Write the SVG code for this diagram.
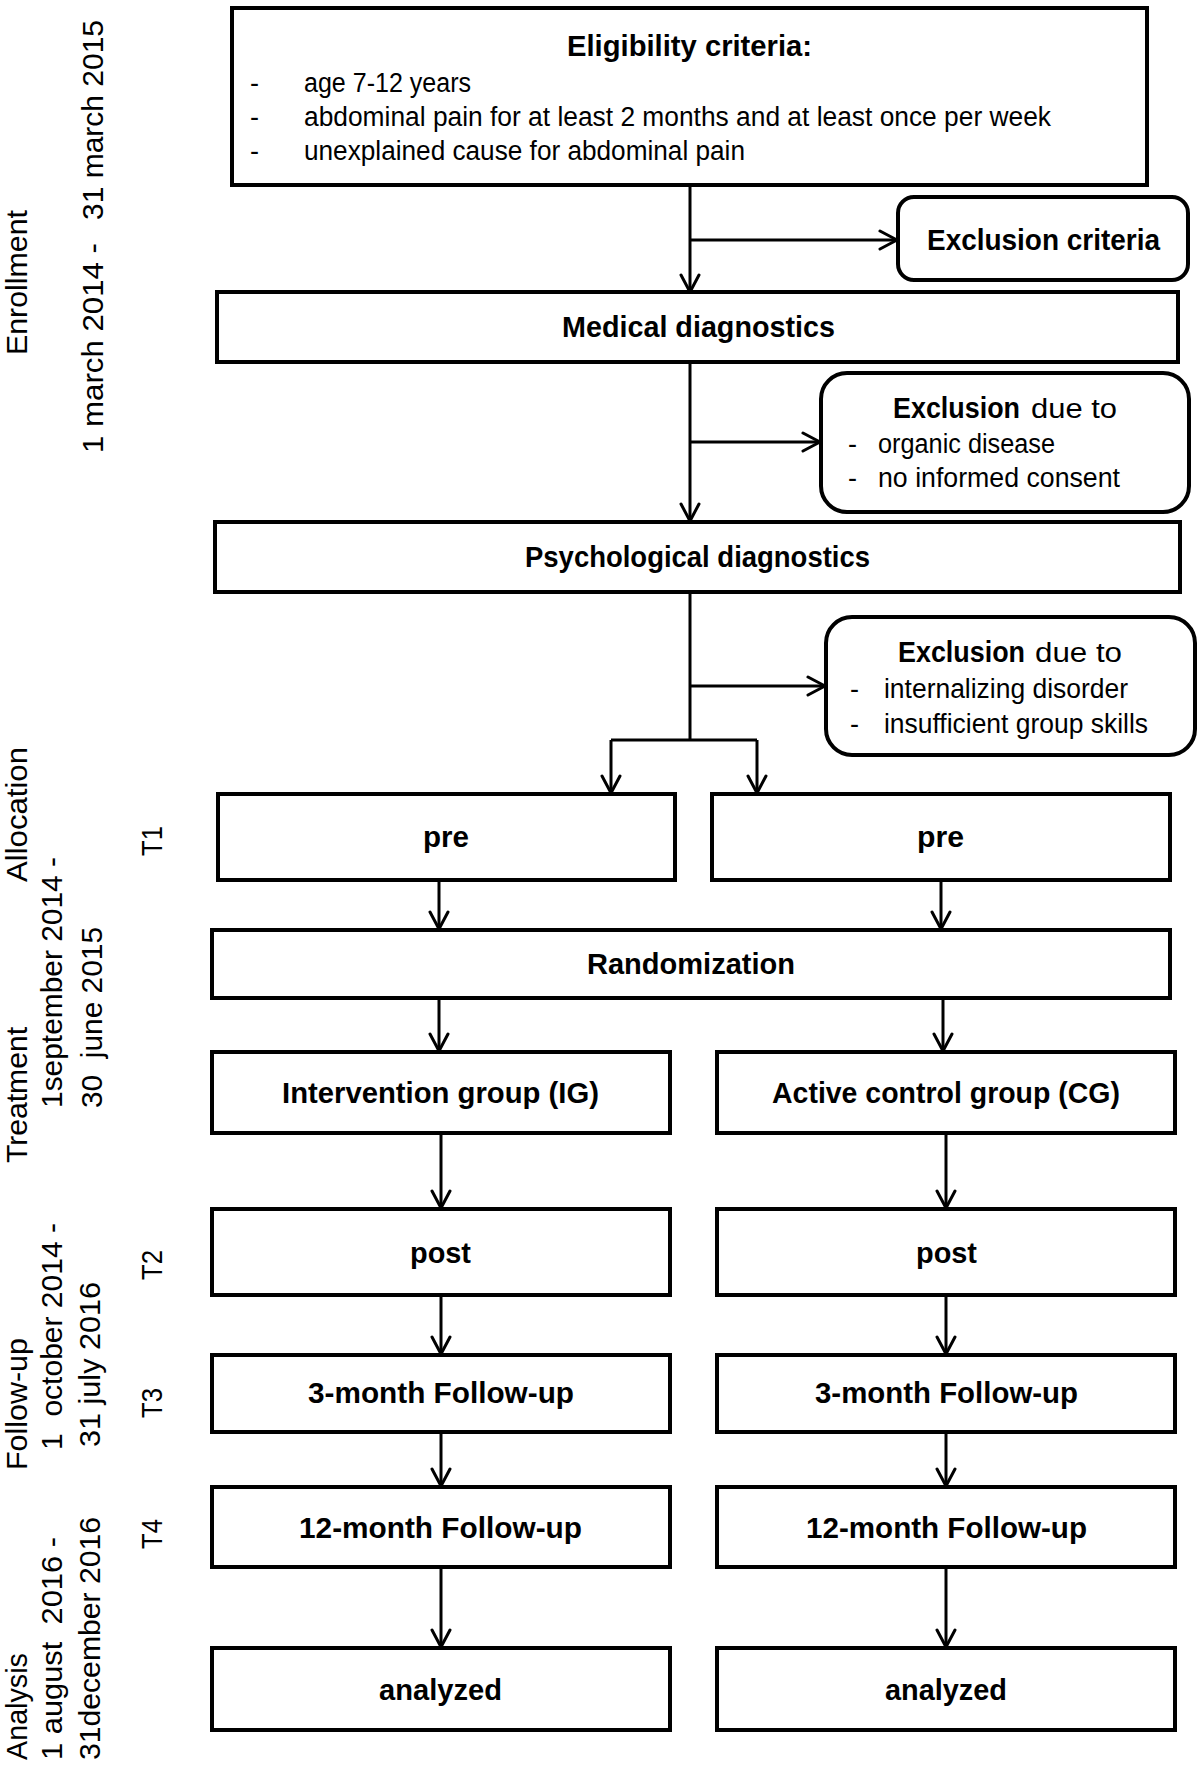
<svg xmlns="http://www.w3.org/2000/svg" width="1200" height="1769" viewBox="0 0 1200 1769">
<style>
text{font-family:"Liberation Sans",Arial,sans-serif;fill:#000}
.b{font-weight:bold;font-size:29px}
.r{font-size:27px}
.s{font-size:30px;white-space:pre}
.box{fill:#fff;stroke:#000;stroke-width:4}
.ln{fill:none;stroke:#000;stroke-width:3}
.ar{fill:none;stroke:#000;stroke-width:3;marker-end:url(#ah)}
</style>
<defs>
<marker id="ah" viewBox="0 0 20 22" refX="19" refY="11" markerWidth="20" markerHeight="22" markerUnits="userSpaceOnUse" orient="auto">
<path d="M2,2 L19,11 L2,20" fill="none" stroke="#000" stroke-width="3" stroke-linejoin="round" stroke-linecap="round"/>
</marker>
</defs>
<rect width="1200" height="1769" fill="#fff"/>

<g id="side-labels">
<text class="s" transform="translate(27,355) rotate(-90)" textLength="145" lengthAdjust="spacingAndGlyphs">Enrollment</text>
<text class="s" transform="translate(103,453) rotate(-90)" textLength="210" lengthAdjust="spacingAndGlyphs">1 march 2014 -</text>
<text class="s" transform="translate(103,220) rotate(-90)" textLength="200" lengthAdjust="spacingAndGlyphs">31 march 2015</text>
<text class="s" transform="translate(27,882) rotate(-90)" textLength="135" lengthAdjust="spacingAndGlyphs">Allocation</text>
<text class="s" transform="translate(27,1163) rotate(-90)" textLength="136" lengthAdjust="spacingAndGlyphs">Treatment</text>
<text class="s" transform="translate(62,1108) rotate(-90)" textLength="251" lengthAdjust="spacingAndGlyphs">1september 2014 -</text>
<text class="s" transform="translate(102,1108) rotate(-90)" textLength="181" lengthAdjust="spacingAndGlyphs" xml:space="preserve">30  june 2015</text>
<text class="s" transform="translate(162,856) rotate(-90)" textLength="30" lengthAdjust="spacingAndGlyphs">T1</text>
<text class="s" transform="translate(27,1470) rotate(-90)" textLength="132" lengthAdjust="spacingAndGlyphs">Follow-up</text>
<text class="s" transform="translate(62,1450) rotate(-90)" textLength="227" lengthAdjust="spacingAndGlyphs" xml:space="preserve">1  october 2014 -</text>
<text class="s" transform="translate(100,1447) rotate(-90)" textLength="165" lengthAdjust="spacingAndGlyphs">31 july 2016</text>
<text class="s" transform="translate(162,1280) rotate(-90)" textLength="30" lengthAdjust="spacingAndGlyphs">T2</text>
<text class="s" transform="translate(162,1418) rotate(-90)" textLength="30" lengthAdjust="spacingAndGlyphs">T3</text>
<text class="s" transform="translate(162,1549) rotate(-90)" textLength="30" lengthAdjust="spacingAndGlyphs">T4</text>
<text class="s" transform="translate(27,1760) rotate(-90)" textLength="107" lengthAdjust="spacingAndGlyphs">Analysis</text>
<text class="s" transform="translate(62,1760) rotate(-90)" textLength="223" lengthAdjust="spacingAndGlyphs" xml:space="preserve">1 august  2016 -</text>
<text class="s" transform="translate(100,1760) rotate(-90)" textLength="243" lengthAdjust="spacingAndGlyphs">31december 2016</text>
</g>

<g id="connectors">
<path class="ar" d="M690,185 V292"/>
<path class="ar" d="M690,240 H897"/>
<path class="ar" d="M690,362 V521"/>
<path class="ar" d="M690,442 H820"/>
<path class="ln" d="M690,592 V740"/>
<path class="ar" d="M690,686 H825"/>
<path class="ln" d="M611,740 H757"/>
<path class="ar" d="M611,740 V793"/>
<path class="ar" d="M757,740 V793"/>
<path class="ar" d="M439,880 V929"/>
<path class="ar" d="M941,880 V929"/>
<path class="ar" d="M439,998 V1051"/>
<path class="ar" d="M943,998 V1051"/>
<path class="ar" d="M441,1133 V1208"/>
<path class="ar" d="M946,1133 V1208"/>
<path class="ar" d="M441,1295 V1354"/>
<path class="ar" d="M946,1295 V1354"/>
<path class="ar" d="M441,1432 V1486"/>
<path class="ar" d="M946,1432 V1486"/>
<path class="ar" d="M441,1567 V1647"/>
<path class="ar" d="M946,1567 V1647"/>
</g>

<g id="eligibility">
<rect class="box" x="232" y="8" width="915" height="177"/>
<text class="b" x="567" y="56" textLength="245" lengthAdjust="spacingAndGlyphs">Eligibility criteria:</text>
<text class="r" x="250" y="92">-</text>
<text class="r" x="304" y="92" textLength="167" lengthAdjust="spacingAndGlyphs">age 7-12 years</text>
<text class="r" x="250" y="126">-</text>
<text class="r" x="304" y="126" textLength="747" lengthAdjust="spacingAndGlyphs">abdominal pain for at least 2 months and at least once per week</text>
<text class="r" x="250" y="160">-</text>
<text class="r" x="304" y="160" textLength="441" lengthAdjust="spacingAndGlyphs">unexplained cause for abdominal pain</text>
</g>

<g id="exclusion-criteria">
<rect class="box" x="898" y="197" width="290" height="83" rx="16"/>
<text class="b" x="927" y="250" textLength="233" lengthAdjust="spacingAndGlyphs">Exclusion criteria</text>
</g>

<g id="medical">
<rect class="box" x="217" y="292" width="961" height="70"/>
<text class="b" x="562" y="337" textLength="273" lengthAdjust="spacingAndGlyphs">Medical diagnostics</text>
</g>

<g id="exclusion-1">
<rect class="box" x="821" y="373" width="368" height="139" rx="26"/>
<text class="b" x="893" y="418" textLength="127" lengthAdjust="spacingAndGlyphs">Exclusion</text>
<text class="r" x="1031" y="418" textLength="86" lengthAdjust="spacingAndGlyphs">due to</text>
<text class="r" x="848" y="453">-</text>
<text class="r" x="878" y="453" textLength="177" lengthAdjust="spacingAndGlyphs">organic disease</text>
<text class="r" x="848" y="487">-</text>
<text class="r" x="878" y="487" textLength="242" lengthAdjust="spacingAndGlyphs">no informed consent</text>
</g>

<g id="psychological">
<rect class="box" x="215" y="522" width="965" height="70"/>
<text class="b" x="525" y="567" textLength="345" lengthAdjust="spacingAndGlyphs">Psychological diagnostics</text>
</g>

<g id="exclusion-2">
<rect class="box" x="826" y="617" width="369" height="138" rx="26"/>
<text class="b" x="898" y="662" textLength="127" lengthAdjust="spacingAndGlyphs">Exclusion</text>
<text class="r" x="1035" y="662" textLength="87" lengthAdjust="spacingAndGlyphs">due to</text>
<text class="r" x="850" y="698">-</text>
<text class="r" x="884" y="698" textLength="244" lengthAdjust="spacingAndGlyphs">internalizing disorder</text>
<text class="r" x="850" y="733">-</text>
<text class="r" x="884" y="733" textLength="264" lengthAdjust="spacingAndGlyphs">insufficient group skills</text>
</g>

<g id="pre-left">
<rect class="box" x="218" y="794" width="457" height="86"/>
<text class="b" x="423" y="847" textLength="46" lengthAdjust="spacingAndGlyphs">pre</text>
</g>
<g id="pre-right">
<rect class="box" x="712" y="794" width="458" height="86"/>
<text class="b" x="917" y="847" textLength="47" lengthAdjust="spacingAndGlyphs">pre</text>
</g>

<g id="randomization">
<rect class="box" x="212" y="930" width="958" height="68"/>
<text class="b" x="587" y="974" textLength="208" lengthAdjust="spacingAndGlyphs">Randomization</text>
</g>

<g id="intervention">
<rect class="box" x="212" y="1052" width="458" height="81"/>
<text class="b" x="282" y="1103" textLength="317" lengthAdjust="spacingAndGlyphs">Intervention group (IG)</text>
</g>
<g id="control">
<rect class="box" x="717" y="1052" width="458" height="81"/>
<text class="b" x="772" y="1103" textLength="348" lengthAdjust="spacingAndGlyphs">Active control group (CG)</text>
</g>

<g id="post-left">
<rect class="box" x="212" y="1209" width="458" height="86"/>
<text class="b" x="410" y="1263" textLength="61" lengthAdjust="spacingAndGlyphs">post</text>
</g>
<g id="post-right">
<rect class="box" x="717" y="1209" width="458" height="86"/>
<text class="b" x="916" y="1263" textLength="61" lengthAdjust="spacingAndGlyphs">post</text>
</g>

<g id="fu3-left">
<rect class="box" x="212" y="1355" width="458" height="77"/>
<text class="b" x="308" y="1403" textLength="266" lengthAdjust="spacingAndGlyphs">3-month Follow-up</text>
</g>
<g id="fu3-right">
<rect class="box" x="717" y="1355" width="458" height="77"/>
<text class="b" x="815" y="1403" textLength="263" lengthAdjust="spacingAndGlyphs">3-month Follow-up</text>
</g>

<g id="fu12-left">
<rect class="box" x="212" y="1487" width="458" height="80"/>
<text class="b" x="299" y="1538" textLength="283" lengthAdjust="spacingAndGlyphs">12-month Follow-up</text>
</g>
<g id="fu12-right">
<rect class="box" x="717" y="1487" width="458" height="80"/>
<text class="b" x="806" y="1538" textLength="281" lengthAdjust="spacingAndGlyphs">12-month Follow-up</text>
</g>

<g id="analyzed-left">
<rect class="box" x="212" y="1648" width="458" height="82"/>
<text class="b" x="379" y="1700" textLength="123" lengthAdjust="spacingAndGlyphs">analyzed</text>
</g>
<g id="analyzed-right">
<rect class="box" x="717" y="1648" width="458" height="82"/>
<text class="b" x="885" y="1700" textLength="122" lengthAdjust="spacingAndGlyphs">analyzed</text>
</g>
</svg>
